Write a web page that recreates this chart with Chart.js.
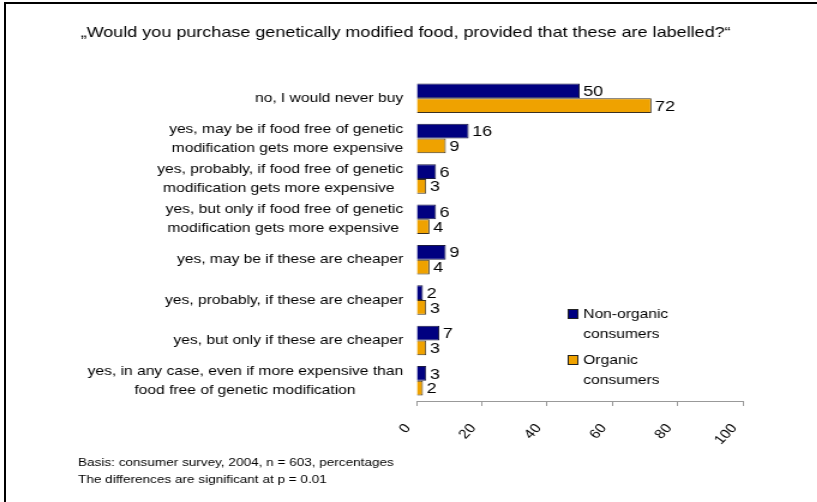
<!DOCTYPE html>
<html>
<head>
<meta charset="utf-8">
<script src="https://cdn.jsdelivr.net/npm/chart.js@4"></script>
<style>
  html, body { margin: 0; padding: 0; background: #fff; overflow: hidden; }
  #frame {
    position: absolute; left: 4px; top: 2px; width: 1000px; height: 700px;
    border-left: 2px solid #000; border-top: 2px solid #000;
  }
  /* the original picture is stretched sideways, so the canvas is too */
  #chart {
    position: absolute; left: 0; top: 0;
    transform: scaleX(1.2); transform-origin: 0 0;
  }
</style>
</head>
<body>
<div id="frame"></div>
<canvas id="chart" width="681" height="502"></canvas>
<script>
// ── Data
const TITLE = '\u201EWould you purchase genetically modified food, provided that these are labelled?\u201C';

const categories = [
  'no, I would never buy',
  ['yes, may be if food free of genetic', 'modification gets more expensive'],
  ['yes, probably, if food free of genetic', 'modification gets more expensive'],
  ['yes, but only if food free of genetic', 'modification gets more expensive'],
  'yes, may be if these are cheaper',
  'yes, probably, if these are cheaper',
  'yes, but only if these are cheaper',
  ['yes, in any case, even if more expensive than', 'food free of genetic modification']
];

const nonOrganic = [50, 16, 6, 6, 9, 2, 7, 3];
const organic    = [72,  9, 3, 4, 4, 3, 3, 2];

const seriesNames = [['Non-organic', 'consumers'], ['Organic', 'consumers']];
const xTicks      = [0, 20, 40, 60, 80, 100];
const footnote    = [
  'Basis: consumer survey, 2004, n = 603, percentages',
  'The differences are significant at p = 0.01'
];

const FONT   = '"Liberation Sans", Arial, sans-serif';
const NAVY   = '#000080';
const ORANGE = '#EFA200';

// multi-line labels are centred on each other, right-aligned as a block
const measure = document.createElement('canvas').getContext('2d');
measure.font = '13px ' + FONT;
function centerLines(label) {
  if (!Array.isArray(label)) return label;
  const widths = label.map(l => measure.measureText(l).width);
  const max    = Math.max(...widths);
  const space  = measure.measureText(' ').width;
  return label.map((l, i) => l + ' '.repeat(Math.round((max - widths[i]) / 2 / space)));
}

// ── value labels at the bar ends
const valueLabels = {
  id: 'valueLabels',
  afterDatasetsDraw(chart) {
    const ctx = chart.ctx;
    ctx.save();
    ctx.font = '15px ' + FONT;
    ctx.fillStyle = '#000';
    ctx.textAlign = 'left';
    ctx.textBaseline = 'middle';
    chart.data.datasets.forEach((ds, i) => {
      chart.getDatasetMeta(i).data.forEach((bar, j) => {
        ctx.fillText(ds.data[j], bar.x + 3, bar.y + 1);
      });
    });
    ctx.restore();
  }
};

// ── legend inside the plot, lower right
const boxLegend = {
  id: 'boxLegend',
  afterDraw(chart) {
    const ctx = chart.ctx;
    ctx.save();
    ctx.font = '13px ' + FONT;
    ctx.textBaseline = 'middle';
    ctx.textAlign = 'left';
    chart.data.datasets.forEach((ds, i) => {
      const top = 309 + i * 46;
      ctx.fillStyle = ds.backgroundColor;
      ctx.fillRect(473.5, top, 8, 9);
      ctx.strokeStyle = '#222';
      ctx.lineWidth = 1;
      ctx.strokeRect(473.5, top + 0.5, 8, 9);
      ctx.fillStyle = '#000';
      seriesNames[i].forEach((line, k) => ctx.fillText(line, 486, top + 5 + k * 20));
    });
    ctx.restore();
  }
};

// ── source note under the chart
const sourceNote = {
  id: 'sourceNote',
  afterDraw(chart) {
    const ctx = chart.ctx;
    ctx.save();
    ctx.font = '11.3px ' + FONT;
    ctx.fillStyle = '#000';
    ctx.textBaseline = 'middle';
    footnote.forEach((line, k) => ctx.fillText(line, 65, 463 + k * 17));
    ctx.restore();
  }
};

new Chart(document.getElementById('chart'), {
  type: 'bar',
  data: {
    labels: categories.map(centerLines),
    datasets: [
      { label: 'Non-organic consumers', data: nonOrganic, backgroundColor: NAVY,
        borderColor: '#1a1a40', borderWidth: 1 },
      { label: 'Organic consumers', data: organic, backgroundColor: ORANGE,
        borderColor: '#3a3020', borderWidth: 1 }
    ]
  },
  options: {
    indexAxis: 'y',
    responsive: false,
    animation: false,
    events: [],
    // left padding balances the right one so the title sits centred on the page
    layout: { padding: { left: 57, right: 62, top: 0, bottom: 0 } },
    datasets: { bar: { categoryPercentage: 0.73, barPercentage: 1 } },
    plugins: {
      legend: { display: false },
      tooltip: { enabled: false },
      title: {
        display: true,
        text: TITLE,
        color: '#000',
        font: { family: FONT, size: 15, weight: 'normal', lineHeight: 1.2 },
        padding: { top: 24, bottom: 36 }
      }
    },
    scales: {
      x: {
        min: 0, max: 100,
        afterBuildTicks: s => { s.ticks = xTicks.map(v => ({ value: v })); },
        afterFit: s => { s.height = 101; },
        grid: { display: true, drawOnChartArea: false, tickLength: 5, color: '#999' },
        border: { display: true, color: '#999' },
        ticks: {
          color: '#000', minRotation: 50, maxRotation: 50, padding: 15, labelOffset: -7,
          font: { family: FONT, size: 13 }
        }
      },
      y: {
        afterFit: s => { s.width = 290; },
        grid: { display: false, drawTicks: false },
        border: { display: false },
        ticks: {
          color: '#000', padding: 11, autoSkip: false,
          font: { family: FONT, size: 13, lineHeight: 1.45 }
        }
      }
    }
  },
  plugins: [valueLabels, boxLegend, sourceNote]
});
</script>
</body>
</html>
